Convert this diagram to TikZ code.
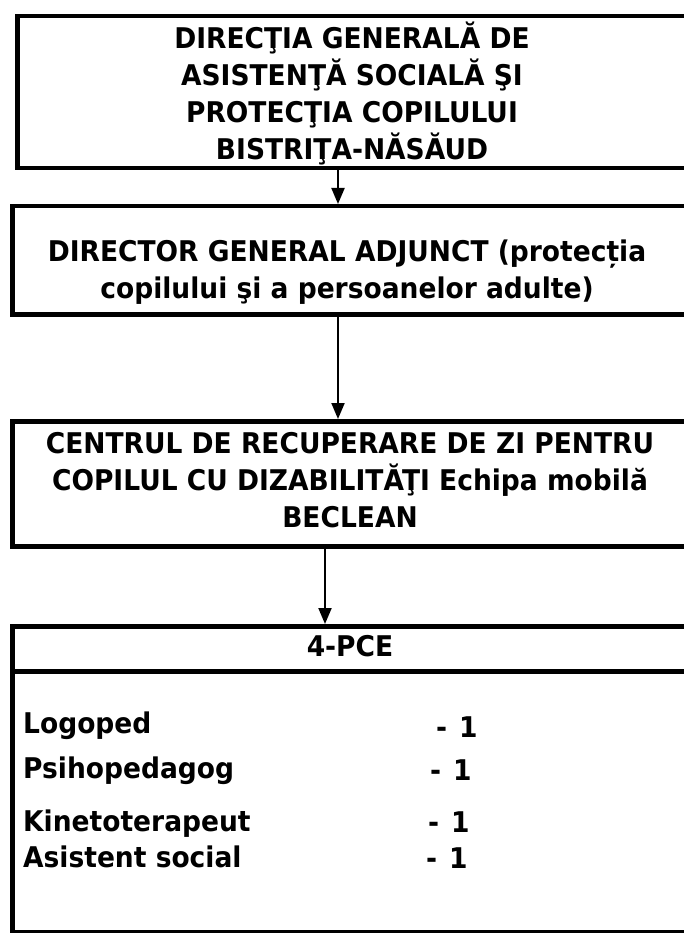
\documentclass[tikz,border=0pt]{standalone}
\usepackage{fontspec}
\setmainfont{DejaVu Sans}[FakeStretch=0.93]
\usetikzlibrary{arrows.meta}
\begin{document}
\begin{tikzpicture}[x=1pt,y=-1pt]
	\tikzstyle{box} = [draw, line width=4.5, inner sep=0, anchor=north west]
	\tikzstyle{boxtext} = [inner sep=0, align=center, font=\bfseries\fontsize{28.5}{37}\selectfont]
	\tikzstyle{item} = [inner sep=0, anchor=base west, font=\bfseries\fontsize{28.5}{37}\selectfont]
	\tikzstyle{arrow} = [-{Triangle[length=16pt, width=13pt]}, line width=2]
	\useasboundingbox (0,0) rectangle (683,933);
\node [box, minimum width=680, minimum height=152] (dgaspc) at (15,14) {};
\node [box, minimum width=685, minimum height=108] (director) at (10,204) {};
\node [box, minimum width=685, minimum height=125] (centru) at (10,419) {};
\node [box, minimum width=685, minimum height=45] (pce) at (10,624) {};
\node [box, minimum width=685, minimum height=261] (lista) at (10,669) {};
\node [boxtext] (dgaspc-t) at (352,93) {DIRECŢIA GENERALĂ DE\\ASISTENŢĂ SOCIALĂ ŞI\\PROTECŢIA COPILULUI\\BISTRIŢA-NĂSĂUD};
\node [boxtext] (director-t) at (347,272) {DIRECTOR GENERAL ADJUNCT (protecția\\copilului şi a persoanelor adulte)};
\node [boxtext] (centru-t) at (350,480) {CENTRUL DE RECUPERARE DE ZI PENTRU\\COPILUL CU DIZABILITĂŢI Echipa mobilă\\BECLEAN};
\node [boxtext] (pce-t) at (350,646) {4-PCE};
\node [item] (logoped) at (23,733) {Logoped};
\node [item] (psihoped) at (23,778) {Psihopedagog};
\node [item] (kineto) at (23,831) {Kinetoterapeut};
\node [item] (asistent) at (23,867) {Asistent social};
\node [item] (logoped-n) at (436,737) {-\hspace{12pt}1};
\node [item] (psihoped-n) at (430,780) {-\hspace{12pt}1};
\node [item] (kineto-n) at (428,832) {-\hspace{12pt}1};
\node [item] (asistent-n) at (426,868) {-\hspace{12pt}1};
\draw [arrow] (dgaspc.south -| 338,0) -- (director.north -| 338,0);
\draw [arrow] (director.south -| 338,0) -- (centru.north -| 338,0);
\draw [arrow] (centru.south -| 325,0) -- (pce.north -| 325,0);
\end{tikzpicture}
\end{document}
